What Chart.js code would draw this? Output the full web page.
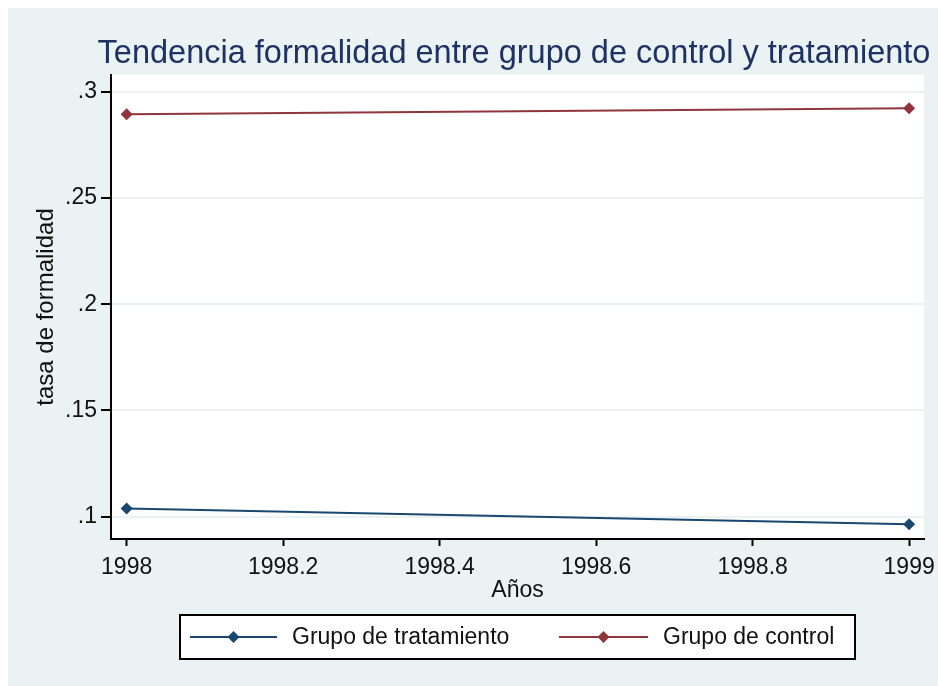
<!DOCTYPE html>
<html>
<head>
<meta charset="utf-8">
<style>
  html, body { margin: 0; padding: 0; background: #fff; }
  #wrap { width: 938px; height: 686px; }
</style>
<script src="https://cdn.jsdelivr.net/npm/chart.js@4/dist/chart.umd.min.js"></script>
</head>
<body>
<div id="wrap"><canvas id="chart" width="938" height="686"></canvas></div>
<script>
const years = [1998, 1999];
const tratamiento = [0.1039, 0.0964];
const control = [0.2894, 0.2922];
const xTicks = [1998, 1998.2, 1998.4, 1998.6, 1998.8, 1999];
const yTicks = [0.1, 0.15, 0.2, 0.25, 0.3];

const NAVY = "#1a476f";
const MAROON = "#90353b";
const BG = "#eaf2f3";
const FONT = "'Liberation Sans', Arial, sans-serif";
const TITLE = "Tendencia formalidad entre grupo de control y tratamiento";

// stata-ish backgrounds + title (title plugin squeezes text to the box)
const bgPlugin = {
    id: "bg",
    beforeDraw(chart) {
        const { ctx, chartArea: a } = chart;
        ctx.save();
        ctx.fillStyle = "#fff";
        ctx.fillRect(0, 0, chart.width, chart.height);
        ctx.fillStyle = BG;
        ctx.fillRect(8, 8, chart.width - 8, chart.height - 8);
        ctx.fillStyle = "#fff";
        ctx.fillRect(a.left, a.top, a.right - a.left, a.bottom - a.top);

        ctx.fillStyle = "#1e3264";
        ctx.font = "32.5px " + FONT;
        ctx.textAlign = "center";
        ctx.textBaseline = "alphabetic";
        ctx.fillText(TITLE, 514, 63);
        ctx.restore();
    }
};

// boxed legend under the axis
const legendBox = {
    id: "legendBox",
    afterDraw(chart) {
        const { ctx } = chart;
        const x0 = 180, x1 = 855, y0 = 615, y1 = 659;
        const yc = (y0 + y1) / 2;
        ctx.save();
        ctx.fillStyle = "#fff";
        ctx.fillRect(x0, y0, x1 - x0, y1 - y0);
        ctx.strokeStyle = "#000";
        ctx.lineWidth = 2;
        ctx.strokeRect(x0, y0, x1 - x0, y1 - y0);

        const items = [
            { ds: chart.data.datasets[0], lx: 190, rx: 277, tx: 292 },
            { ds: chart.data.datasets[1], lx: 559, rx: 648, tx: 663 }
        ];
        items.forEach(it => {
            ctx.strokeStyle = it.ds.borderColor;
            ctx.lineWidth = 2;
            ctx.beginPath();
            ctx.moveTo(it.lx, yc);
            ctx.lineTo(it.rx, yc);
            ctx.stroke();
            const mx = (it.lx + it.rx) / 2;
            ctx.fillStyle = it.ds.borderColor;
            ctx.beginPath();
            ctx.moveTo(mx, yc - 6);
            ctx.lineTo(mx + 6, yc);
            ctx.lineTo(mx, yc + 6);
            ctx.lineTo(mx - 6, yc);
            ctx.closePath();
            ctx.fill();
            ctx.fillStyle = "#111";
            ctx.font = "23px " + FONT;
            ctx.textBaseline = "middle";
            ctx.fillText(it.ds.label, it.tx, yc + 1);
        });
        ctx.restore();
    }
};

const stataFmt = v => String(Math.round(v * 1000) / 1000).replace(/^0\./, ".");

new Chart(document.getElementById("chart"), {
    type: "line",
    data: {
        datasets: [
            {
                label: "Grupo de tratamiento",
                data: years.map((y, i) => ({ x: y, y: tratamiento[i] })),
                borderColor: NAVY,
                backgroundColor: NAVY,
                borderWidth: 2,
                pointStyle: "rectRot",
                pointRadius: 6,
                pointBorderWidth: 0
            },
            {
                label: "Grupo de control",
                data: years.map((y, i) => ({ x: y, y: control[i] })),
                borderColor: MAROON,
                backgroundColor: MAROON,
                borderWidth: 2,
                pointStyle: "rectRot",
                pointRadius: 6,
                pointBorderWidth: 0
            }
        ]
    },
    options: {
        responsive: false,
        animation: false,
        layout: { padding: { left: 8, right: 14, top: 75, bottom: 81 } },
        plugins: {
            legend: { display: false },
            tooltip: { enabled: false },
            title: { display: false }
        },
        scales: {
            x: {
                type: "linear",
                min: 1997.98,
                max: 1999.019,
                afterBuildTicks: s => { s.ticks = xTicks.map(v => ({ value: v })); },
                afterFit: s => { s.height = 66; s.paddingLeft = 0; s.paddingRight = 0; },
                border: { color: "#000", width: 2 },
                grid: { drawOnChartArea: false, drawTicks: true, tickLength: 7, tickColor: "#000", tickWidth: 2 },
                ticks: {
                    color: "#111",
                    font: { family: FONT, size: 23 },
                    padding: 8,
                    maxRotation: 0,
                    callback: v => String(Math.round(v * 10) / 10)
                },
                title: {
                    display: true,
                    text: "Años",
                    color: "#111",
                    font: { family: FONT, size: 23 },
                    padding: { top: 0, bottom: 1 }
                }
            },
            y: {
                min: 0.0895,
                max: 0.3079,
                afterBuildTicks: s => { s.ticks = yTicks.map(v => ({ value: v })); },
                afterFit: s => { s.width = 103; s.paddingTop = 0; s.paddingBottom = 0; },
                border: { color: "#000", width: 2 },
                grid: { color: BG, lineWidth: 2, tickLength: 10, tickColor: "#000", tickWidth: 2 },
                ticks: {
                    color: "#111",
                    font: { family: FONT, size: 23 },
                    padding: 4,
                    callback: stataFmt
                },
                title: {
                    display: true,
                    text: "tasa de formalidad",
                    color: "#111",
                    font: { family: FONT, size: 24 },
                    padding: { top: 24, bottom: 0 }
                }
            }
        }
    },
    plugins: [bgPlugin, legendBox]
});
</script>
</body>
</html>
